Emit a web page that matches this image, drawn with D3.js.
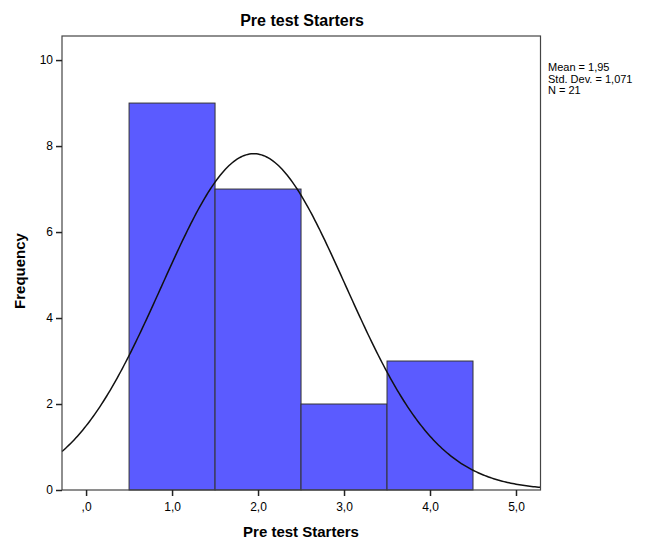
<!doctype html>
<html lang="en">
<head>
    <meta charset="utf-8" />
    <title>Pre test Starters</title>
    <script src="https://d3js.org/d3.v7.min.js"></script>
    <style>
        body { margin: 0; background: #fff; }
        text { font-family: "Liberation Sans", Arial, sans-serif; fill: #000; }
    </style>
</head>
<body>
    <div id="chart"></div>
    <script>
        // histogram bins (lower edge, upper edge) and frequencies
        const binStarts = [0.5, 1.5, 2.5, 3.5]
        const binEnds = [1.5, 2.5, 3.5, 4.5]
        const counts = [9, 7, 2, 3]
        const xTicks = [0, 1, 2, 3, 4, 5]
        const xTickLabels = [",0", "1,0", "2,0", "3,0", "4,0", "5,0"]
        const yTicks = [0, 2, 4, 6, 8, 10]
        const statsLines = ["Mean = 1,95", "Std. Dev. = 1,071", "N = 21"]
        const mean = 1.95, sd = 1.071, n = 21, binWidth = 1

        const W = 646, H = 540
        const m = { left: 62, right: 540.5, top: 36, bottom: 490 }

        const svg = d3.select("#chart").append("svg")
            .attr("width", W).attr("height", H)

        const x = d3.scaleLinear().domain([-0.28, 5.285]).range([m.left, m.right])
        const y = d3.scaleLinear().domain([0, 10.56]).range([m.bottom, m.top])

        // bars
        svg.append("g").selectAll("rect")
            .data(counts)
            .join("rect")
            .attr("x", (d, i) => x(binStarts[i]))
            .attr("width", (d, i) => x(binEnds[i]) - x(binStarts[i]))
            .attr("y", d => y(d))
            .attr("height", d => y(0) - y(d))
            .attr("fill", "#5b5bff")
            .attr("stroke", "#333")
            .attr("stroke-width", 1)

        // normal curve
        const pts = d3.range(-0.28, 5.29, 0.02).map(v => [v,
            n * binWidth * Math.exp(-0.5 * ((v - mean) / sd) ** 2) / (sd * Math.sqrt(2 * Math.PI))])
        svg.append("path")
            .datum(pts)
            .attr("fill", "none")
            .attr("stroke", "#111")
            .attr("stroke-width", 1.5)
            .attr("d", d3.line().x(d => x(d[0])).y(d => y(d[1])))

        // frame
        svg.append("rect")
            .attr("x", m.left).attr("y", m.top)
            .attr("width", m.right - m.left).attr("height", m.bottom - m.top)
            .attr("fill", "none").attr("stroke", "#444").attr("stroke-width", 1.2)

        // axes
        const xAxis = svg.append("g")
            .attr("transform", `translate(0,${m.bottom})`)
            .call(d3.axisBottom(x).tickValues(xTicks).tickSize(6).tickPadding(6)
                .tickFormat((d, i) => xTickLabels[i]))
        const yAxis = svg.append("g")
            .attr("transform", `translate(${m.left},0)`)
            .call(d3.axisLeft(y).tickValues(yTicks).tickSize(6).tickPadding(3))
        for (const a of [xAxis, yAxis]) {
            a.select(".domain").remove()
            a.selectAll("line").attr("stroke", "#222").attr("stroke-width", 1.5)
            a.selectAll("text").attr("font-size", 12).attr("fill", "#222")
                .attr("font-family", "'Liberation Sans', Arial, sans-serif")
        }

        // title and labels
        svg.append("text").attr("x", 302).attr("y", 26)
            .attr("text-anchor", "middle").attr("font-size", 16).attr("font-weight", "bold")
            .text("Pre test Starters")
        svg.append("text").attr("x", 301).attr("y", 537)
            .attr("text-anchor", "middle").attr("font-size", 15).attr("font-weight", "bold")
            .text("Pre test Starters")
        svg.append("text")
            .attr("transform", `translate(25,${(m.top + m.bottom) / 2 + 8}) rotate(-90)`)
            .attr("text-anchor", "middle").attr("font-size", 15).attr("font-weight", "bold")
            .text("Frequency")

        // stats box
        svg.append("g").selectAll("text")
            .data(statsLines)
            .join("text")
            .attr("x", 548)
            .attr("y", (d, i) => 71 + i * 11.5)
            .attr("font-size", 11)
            .text(d => d)
    </script>
</body>
</html>
